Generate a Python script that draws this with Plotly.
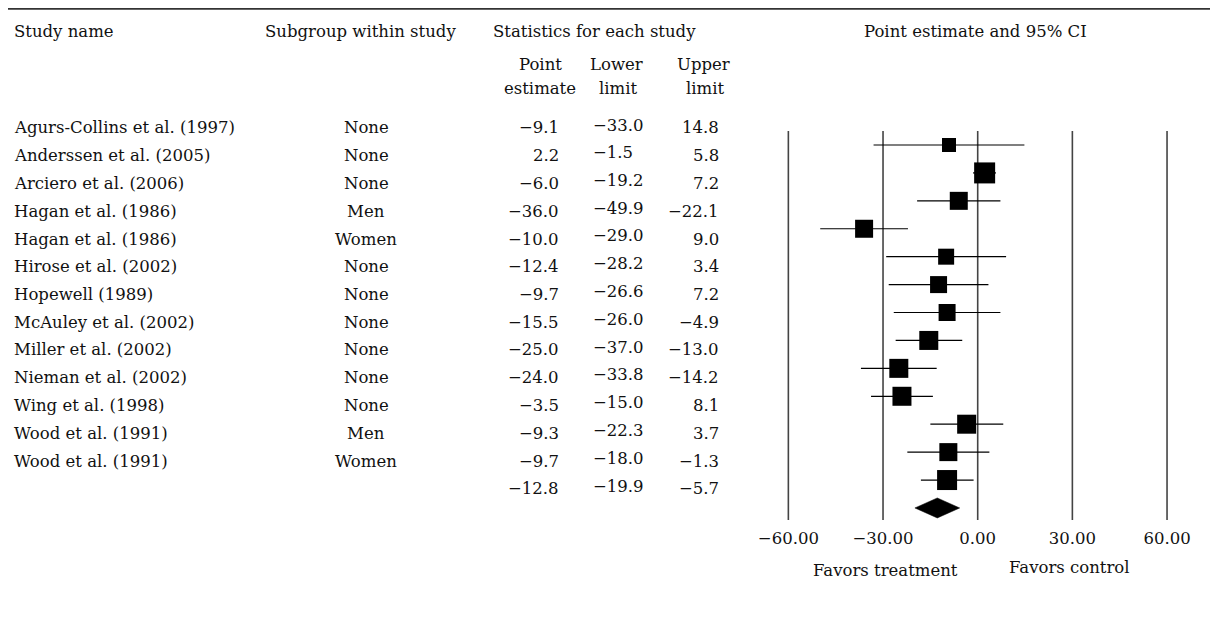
import plotly.graph_objects as go

# ---------------- data ----------------
studies = [
    "Agurs-Collins et al. (1997)", "Anderssen et al. (2005)", "Arciero et al. (2006)",
    "Hagan et al. (1986)", "Hagan et al. (1986)", "Hirose et al. (2002)",
    "Hopewell (1989)", "McAuley et al. (2002)", "Miller et al. (2002)",
    "Nieman et al. (2002)", "Wing et al. (1998)", "Wood et al. (1991)", "Wood et al. (1991)",
]
subgroups = ["None", "None", "None", "Men", "Women", "None", "None",
             "None", "None", "None", "None", "Men", "Women"]
point_est = [-9.1, 2.2, -6.0, -36.0, -10.0, -12.4, -9.7, -15.5, -25.0, -24.0, -3.5, -9.3, -9.7]
lower_lim = [-33.0, -1.5, -19.2, -49.9, -29.0, -28.2, -26.6, -26.0, -37.0, -33.8, -15.0, -22.3, -18.0]
upper_lim = [14.8, 5.8, 7.2, -22.1, 9.0, 3.4, 7.2, -4.9, -13.0, -14.2, 8.1, 3.7, -1.3]
summary_point = -12.8
summary_lower = -19.9
summary_upper = -5.7
tick_vals = [-60, -30, 0, 30, 60]
tick_text = ["−60.00", "−30.00", "0.00", "30.00", "60.00"]

# ---------------- style ----------------
SW, SH = 1218, 625          # screen size
OFF = 8                     # page body margin
WF, HF = SW - OFF, SH - OFF # figure size
FONT = "DejaVu Serif"
FS = 16.5
TXT = "#111111"
square_px = [14, 21, 18, 18, 16, 17, 17, 19, 19, 19, 19, 18, 20]

ZERO_PX = 977.7
UNIT_PX = 94.67 / 30.0
ROW0_PX = 145.0
ROW_PITCH = 27.92
AXIS_BOTTOM_PX = 522.0

def fmt(v):
    return f"{v:.1f}".replace("-", "−")

def px_x(sx):
    return (sx - OFF) / WF

def px_y(sy):
    return 1 - (sy - OFF) / HF

n = len(studies)
rows = list(range(n))
sum_row = n

fig = go.Figure()

# reference vertical lines
vx, vy = [], []
for v in tick_vals:
    vx += [v, v, None]
    vy += [-0.5, sum_row + 0.43, None]
fig.add_trace(go.Scatter(x=vx, y=vy, mode="lines",
                         line=dict(color="#444444", width=1.6),
                         hoverinfo="skip", showlegend=False))

# confidence interval lines
cx, cy = [], []
for i in rows:
    cx += [lower_lim[i], upper_lim[i], None]
    cy += [i, i, None]
fig.add_trace(go.Scatter(x=cx, y=cy, mode="lines",
                         line=dict(color="#000000", width=1.2),
                         hoverinfo="skip", showlegend=False))

# point estimates
fig.add_trace(go.Scatter(x=point_est, y=rows, mode="markers", opacity=1,
                         marker=dict(symbol="square", size=square_px, color="#000000",
                                     opacity=1, line=dict(width=0, color="#000000")),
                         showlegend=False))

# summary diamond
h = 10.0 / ROW_PITCH
fig.add_trace(go.Scatter(
    x=[summary_lower, summary_point, summary_upper, summary_point, summary_lower],
    y=[sum_row, sum_row - h, sum_row, sum_row + h, sum_row],
    mode="lines", fill="toself", fillcolor="#000000",
    line=dict(color="#000000", width=0.5), showlegend=False))

# ---------------- text table ----------------
ann = []

def add(text, x, y, xanchor="left"):
    ann.append(dict(text=text, x=px_x(x), y=px_y(y), xref="paper", yref="paper",
                    xanchor=xanchor, yanchor="middle", showarrow=False,
                    font=dict(family=FONT, size=FS, color=TXT)))

add("Study name", 11.5, 31.5)
add("Subgroup within study", 360.5, 31.5, "center")
add("Statistics for each study", 594, 31.5, "center")
add("Point estimate and 95% CI", 975, 31.5, "center")
add("Point", 540, 64, "center")
add("estimate", 540, 88.5, "center")
add("Lower", 616, 64, "center")
add("limit", 618, 88.5, "center")
add("Upper", 703, 64, "center")
add("limit", 705, 88.5, "center")

TEXT_ROW0 = 128.0
TEXT_PITCH = 27.75
for i in rows:
    y = TEXT_ROW0 + TEXT_PITCH * i
    add(studies[i], 11.5, y)
    add(subgroups[i], 366, y, "center")
    add(fmt(point_est[i]), 561, y, "right")
    add(fmt(lower_lim[i]), 591, y - 3, "left")
    add(fmt(upper_lim[i]), 721, y, "right")
ys = TEXT_ROW0 + TEXT_PITCH * sum_row
add(fmt(summary_point), 561, ys, "right")
add(fmt(summary_lower), 591, ys - 2, "left")
add(fmt(summary_upper), 721, ys, "right")

add("Favors treatment", 885, 570, "center")
add("Favors control", 1069, 567, "center")

# ---------------- layout ----------------
x_range = [(OFF - ZERO_PX) / UNIT_PX, (SW - ZERO_PX) / UNIT_PX]
y_range = [(AXIS_BOTTOM_PX - ROW0_PX) / ROW_PITCH, (OFF - ROW0_PX) / ROW_PITCH]

fig.update_layout(
    width=WF, height=HF,
    margin=dict(l=0, r=0, t=0, b=0),
    paper_bgcolor="white", plot_bgcolor="white",
    showlegend=False,
    xaxis=dict(range=x_range, domain=[0, 1], tickvals=tick_vals, ticktext=tick_text,
               showgrid=False, zeroline=False, showline=False, ticks="",
               ticklabelstandoff=4,
               tickfont=dict(family=FONT, size=FS, color=TXT), fixedrange=True),
    yaxis=dict(range=y_range, domain=[(HF - (AXIS_BOTTOM_PX - OFF)) / HF, 1],
               showgrid=False, zeroline=False, showline=False,
               showticklabels=False, ticks="", fixedrange=True),
    annotations=ann,
    shapes=[dict(type="line", xref="paper", yref="paper", x0=0, x1=1,
                 y0=1 - 0.9 / HF, y1=1 - 0.9 / HF, line=dict(color="#333333", width=1.6))],
)

fig.write_html("out.html")
